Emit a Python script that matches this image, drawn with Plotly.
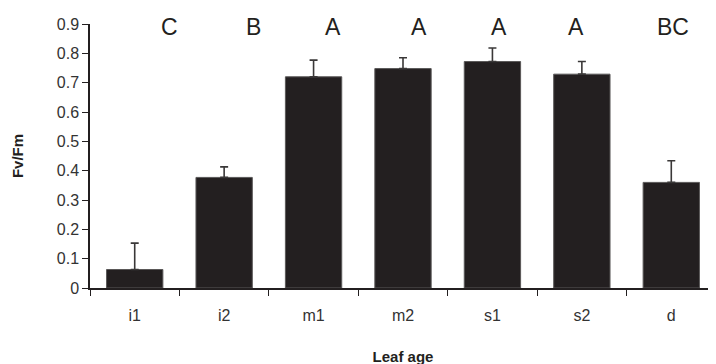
import plotly.graph_objects as go

categories = ["i1", "i2", "m1", "m2", "s1", "s2", "d"]
fvfm = [0.063, 0.377, 0.720, 0.748, 0.772, 0.729, 0.360]
se = [0.090, 0.036, 0.057, 0.037, 0.046, 0.043, 0.074]
letters = ["C", "B", "A", "A", "A", "A", "BC"]
y_ticks = [0, 0.1, 0.2, 0.3, 0.4, 0.5, 0.6, 0.7, 0.8, 0.9]
y_ticktext = ["0", "0.1", "0.2", "0.3", "0.4", "0.5", "0.6", "0.7", "0.8", "0.9"]

# letter horizontal offsets (style, in category units)
letter_dx = [0.39, 0.33, 0.22, 0.18, 0.07, -0.06, 0.02]

ink = "#231f20"
font = "Liberation Sans, Arial, sans-serif"

fig = go.Figure()
fig.add_trace(go.Bar(
    x=categories, y=fvfm, width=0.63,
    marker=dict(color=ink, line=dict(color="#5a5858", width=1)),
    error_y=dict(type="data", array=se, arrayminus=[0]*len(se), symmetric=False,
                 color="#3a3838", thickness=1.6, width=4),
))

for i, (lab, dx) in enumerate(zip(letters, letter_dx)):
    fig.add_annotation(x=i + dx, y=0.891, xref="x", yref="y", text=lab,
                       showarrow=False, yanchor="middle", xanchor="center",
                       font=dict(family=font, size=23, color=ink))

# page body has an 8px margin, so the figure sits at (8, 8) in the window
fig.update_layout(
    width=716, height=364,
    margin=dict(l=78, r=8, t=16, b=83.5),
    paper_bgcolor="white", plot_bgcolor="white",
    showlegend=False, bargap=0.37,
    font=dict(family=font, color=ink),
)
fig.update_xaxes(
    type="category", range=[-0.5, 6.5], tickson="boundaries",
    showline=True, linecolor=ink, linewidth=1.5,
    ticks="outside", ticklen=6, tickcolor=ink, tickwidth=1.2,
    tickfont=dict(family=font, size=16, color="#333"), ticklabelstandoff=12,
    showgrid=False, zeroline=False,
    title=dict(text="<b>Leaf age</b>", font=dict(family=font, size=15, color=ink), standoff=29),
)
fig.update_yaxes(
    range=[0, 0.9], tickvals=y_ticks, ticktext=y_ticktext,
    showline=True, linecolor=ink, linewidth=1.5,
    ticks="outside", ticklen=6, tickcolor=ink, tickwidth=1.2,
    tickfont=dict(family=font, size=16, color="#333"),
    showgrid=False, zeroline=False,
    title=dict(text="<b>Fv/Fm</b>", font=dict(family=font, size=15, color=ink), standoff=30),
)

fig.write_html("out.html")
